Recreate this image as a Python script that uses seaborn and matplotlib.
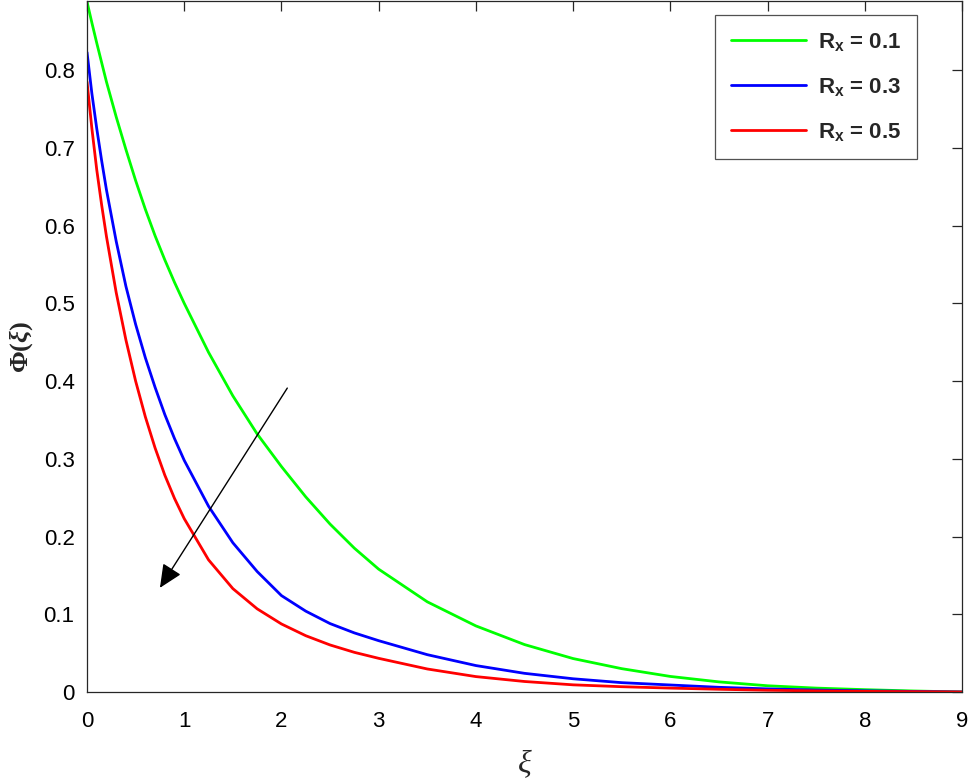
import numpy as np
import pandas as pd
import matplotlib
matplotlib.use("Agg")
import matplotlib.pyplot as plt
import seaborn as sns

# ---- data ----
xi = [0, 0.05, 0.1, 0.15, 0.2, 0.3, 0.4, 0.5, 0.6, 0.7, 0.8, 0.9, 1.0,
      1.25, 1.5, 1.75, 2.0, 2.25, 2.5, 2.75, 3.0, 3.5, 4.0, 4.5, 5.0,
      5.5, 6.0, 6.5, 7.0, 7.5, 8.0, 8.5, 9.0]
phi_01 = [0.888, 0.861, 0.835, 0.810, 0.785, 0.740, 0.698, 0.658, 0.621, 0.587, 0.556, 0.527, 0.500,
          0.437, 0.381, 0.332, 0.290, 0.251, 0.216, 0.185, 0.158, 0.116, 0.085, 0.061, 0.043,
          0.030, 0.020, 0.013, 0.008, 0.005, 0.003, 0.0013, 0.0]
phi_03 = [0.823, 0.770, 0.725, 0.684, 0.646, 0.580, 0.522, 0.473, 0.430, 0.392, 0.357, 0.326, 0.298,
          0.239, 0.192, 0.155, 0.124, 0.104, 0.088, 0.076, 0.066, 0.048, 0.034, 0.024, 0.017,
          0.012, 0.009, 0.006, 0.004, 0.0025, 0.0015, 0.0007, 0.0]
phi_05 = [0.785, 0.725, 0.672, 0.627, 0.586, 0.514, 0.453, 0.400, 0.354, 0.314, 0.279, 0.249, 0.223,
          0.170, 0.133, 0.107, 0.0875, 0.0724, 0.0605, 0.051, 0.0433, 0.0296, 0.0198, 0.0135, 0.0092,
          0.0068, 0.005, 0.0035, 0.0022, 0.0014, 0.0008, 0.0004, 0.0]
labels = ["R$_\\mathregular{x}$ = 0.1", "R$_\\mathregular{x}$ = 0.3", "R$_\\mathregular{x}$ = 0.5"]
colors = ["#00ff00", "#0000ff", "#ff0000"]
xticks = [0, 1, 2, 3, 4, 5, 6, 7, 8, 9]
yticks = [0, 0.1, 0.2, 0.3, 0.4, 0.5, 0.6, 0.7, 0.8]

df = pd.concat([
    pd.DataFrame({"xi": xi, "phi": s, "series": lab})
    for s, lab in zip([phi_01, phi_03, phi_05], labels)
], ignore_index=True)

sns.set_style("white")
plt.rcParams["font.family"] = ["Liberation Sans", "DejaVu Sans"]
plt.rcParams["mathtext.fontset"] = "custom"
plt.rcParams["mathtext.it"] = "Liberation Serif:italic:bold"
plt.rcParams["mathtext.rm"] = "Liberation Serif"

fig = plt.figure(figsize=(9.69, 7.79), dpi=100)
ax = fig.add_axes([0.0898, 0.1117, 0.9030, 0.8870])

sns.lineplot(data=df, x="xi", y="phi", hue="series", palette=colors,
             hue_order=labels, linewidth=2, ax=ax, sort=True, estimator=None)

ax.set_xlim(0, 9)
ax.set_ylim(0, 0.889)
ax.set_xticks(xticks)
ax.set_yticks(yticks)
ax.set_xticklabels([str(t) for t in xticks])
ax.set_yticklabels(["0" if t == 0 else f"{t:.1f}" for t in yticks])

for sp in ax.spines.values():
    sp.set_visible(True)
    sp.set_color("#262626")
    sp.set_linewidth(0.9)

ax.tick_params(axis="both", direction="in", length=7, width=0.9, color="#262626",
               labelsize=16, top=True, right=True, labelcolor="black")
ax.tick_params(axis="x", pad=14)
ax.tick_params(axis="y", pad=9)

ax.set_xlabel("ξ", family="Liberation Serif", style="italic", fontsize=23, labelpad=12)
ax.set_ylabel("Φ($\\mathit{ξ}$)", family="Liberation Serif", fontweight="bold", fontsize=19, labelpad=6)

leg = ax.legend(loc="upper right", bbox_to_anchor=(0.9486, 0.9797), frameon=True,
                fancybox=False, prop={"weight": "bold", "size": 16},
                handlelength=3.4, handletextpad=0.55, labelspacing=1.05,
                borderpad=0.7, borderaxespad=0)
leg.get_frame().set_edgecolor("#262626")
leg.get_frame().set_linewidth(0.9)
for h in leg.get_lines():
    h.set_linewidth(2)

ax.annotate("", xy=(0.75, 0.134), xytext=(2.06, 0.391),
            arrowprops=dict(arrowstyle="-|>,head_length=0.55,head_width=0.25", color="black", lw=1,
                            mutation_scale=26, shrinkA=0, shrinkB=0))

fig.savefig("out.png", dpi=100)
